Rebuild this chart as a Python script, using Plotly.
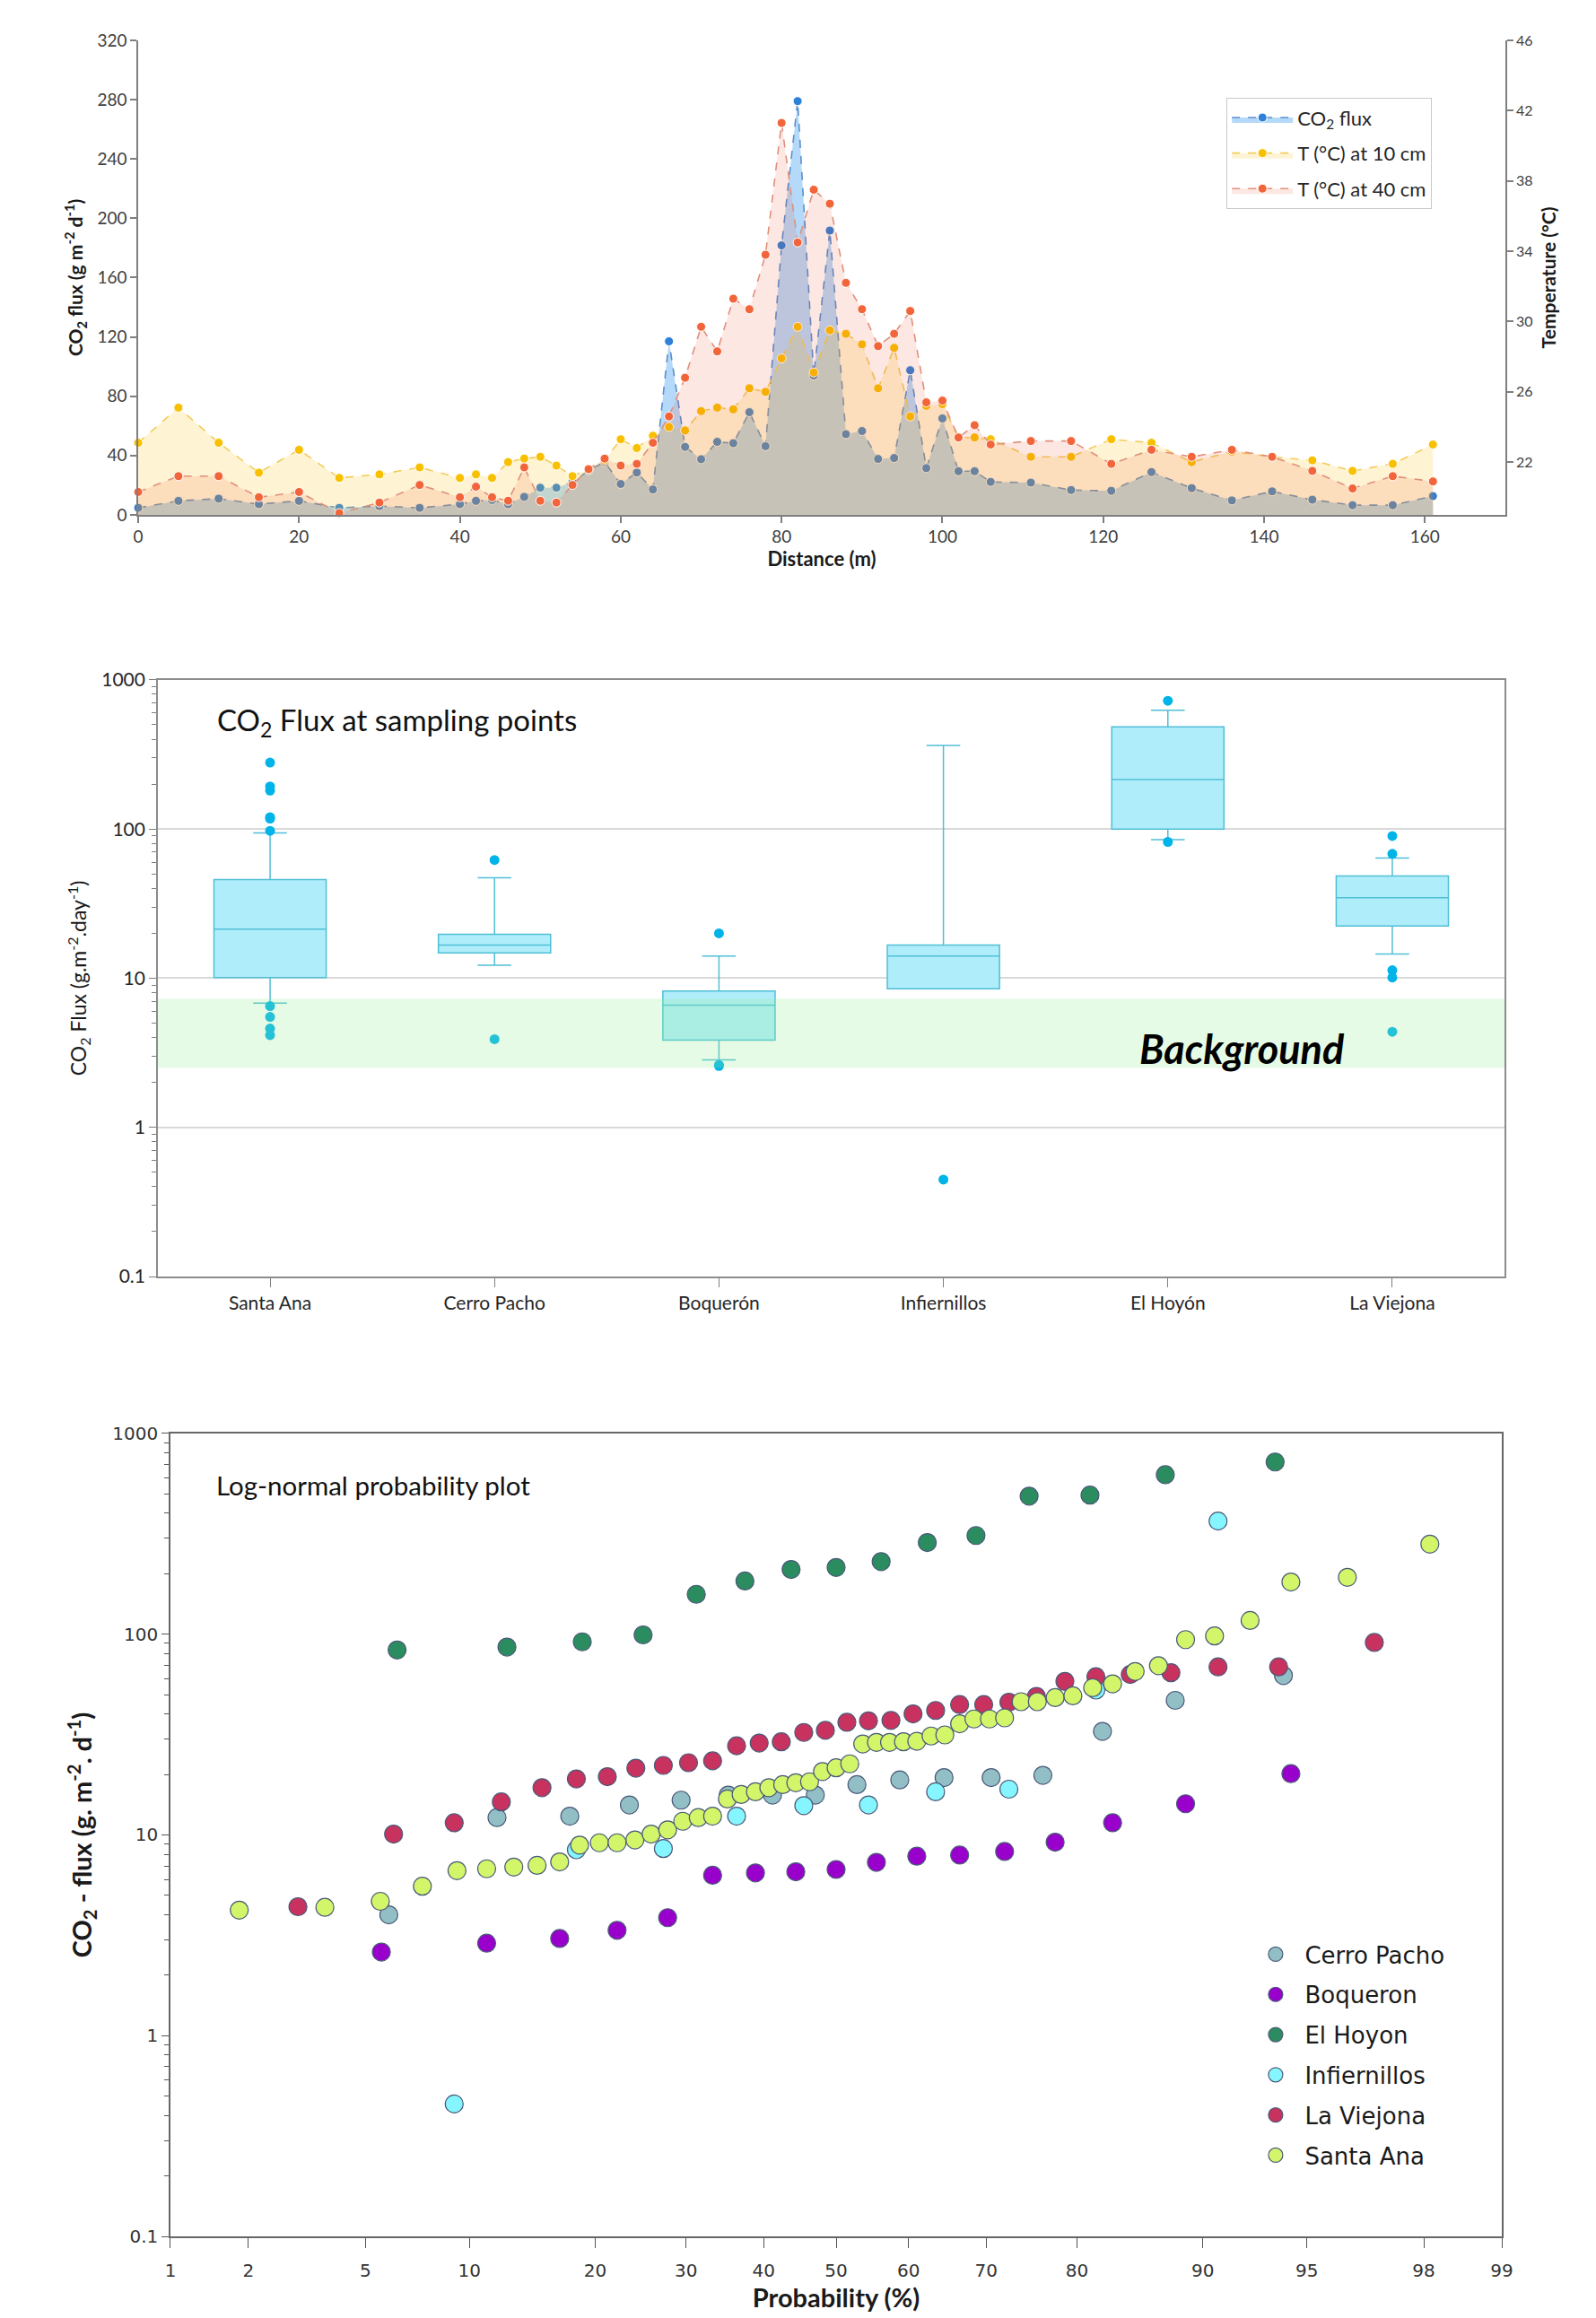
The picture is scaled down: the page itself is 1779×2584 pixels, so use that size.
import plotly.graph_objects as go
from statistics import NormalDist

# ---------------- Panel 1 : CO2 flux and soil temperature profile ----------------
distance_m = [0, 5, 10, 15, 20, 25, 30, 35, 40,
              42, 44, 46, 48, 50, 52, 54, 56, 58, 60, 62, 64, 66, 68, 70, 72, 74, 76, 78,
              80, 82, 84, 86, 88, 90, 92, 94, 96, 98, 100, 102, 104, 106,
              111, 116, 121, 126, 131, 136, 141, 146, 151, 156, 161]
co2_flux = [4.7, 9.4, 10.9, 7.2, 9.4, 4.7, 5.9, 4.7, 7.2,
            9.4, 10, 7.2, 12.1, 18.3, 18.3, 22, 30, 35.6, 20.8, 28.5, 17.1, 117, 45.8, 37.5, 49.2, 48.3, 69.2, 46.3,
            181.7, 279, 94, 191.7, 54.4, 56.5, 37.7, 38.3, 97.5, 31.5, 65, 29.4, 29.4, 22.2,
            21.7, 16.7, 16.2, 28.8, 18, 9.7, 15.8, 10.2, 6.5, 6.5, 12.6]
temp_10cm = [23.1, 25.1, 23.1, 21.4, 22.7, 21.1, 21.3, 21.7, 21.1,
             21.3, 21.1, 22.0, 22.2, 22.3, 21.8, 21.2, 21.6, 22.1, 23.3, 22.8, 23.5, 24.0, 23.8, 24.9, 25.1, 25.0, 26.2, 26.0,
             27.9, 29.7, 27.1, 29.5, 29.3, 28.7, 26.2, 28.5, 24.6, 25.2, 25.3, 23.4, 23.4, 23.3,
             22.3, 22.3, 23.3, 23.1, 22.0, 22.6, 22.3, 22.1, 21.5, 21.9, 23.0]
temp_40cm = [20.3, 21.2, 21.2, 20.0, 20.3, 19.1, 19.7, 20.7, 20.0,
             20.6, 20.0, 19.8, 21.7, 19.8, 19.7, 20.7, 21.6, 22.2, 21.8, 21.9, 23.1, 24.6, 26.8, 29.7, 28.3, 31.3, 30.7, 33.8,
             41.3, 34.5, 37.5, 36.7, 32.2, 30.7, 28.6, 29.3, 30.6, 25.4, 25.5, 23.4, 24.1, 23.0,
             23.2, 23.2, 21.9, 22.7, 22.3, 22.7, 22.3, 21.5, 20.5, 21.2, 20.9]
dist_ticks = [0, 20, 40, 60, 80, 100, 120, 140, 160]
flux_ticks = [0, 40, 80, 120, 160, 200, 240, 280, 320]
temp_ticks = [22, 26, 30, 34, 38, 42, 46]

# ---------------- Panel 2 : box plots ----------------
sites_box = ["Santa Ana", "Cerro Pacho", "Boquerón", "Infiernillos", "El Hoyón", "La Viejona"]
box_q1 = [10.1, 14.8, 3.85, 8.5, 100, 22.4]
box_median = [21.3, 16.7, 6.6, 14.1, 215, 34.6]
box_q3 = [45.9, 19.7, 8.2, 16.7, 484, 48.4]
box_lower = [6.8, 12.2, 2.83, 8.5, 85, 14.5]
box_upper = [94.2, 47.1, 14.1, 363, 625, 63.8]
outliers = [
    [279, 193, 181, 120, 117.5, 97.3, 6.5, 5.5, 4.6, 4.15],
    [62, 3.9],
    [20, 2.62, 2.58],
    [0.447],
    [724, 82],
    [89.8, 68.2, 11.3, 10.1, 4.37],
]
background_low = 2.5
background_high = 7.3
log_ticks = [0.1, 1, 10, 100, 1000]
log_ticktext = ["0.1", "1", "10", "100", "1000"]

# ---------------- Panel 3 : log-normal probability plot ----------------
prob_ticks = [1, 2, 5, 10, 20, 30, 40, 50, 60, 70, 80, 90, 95, 98, 99]
cp_prob = [5.9, 11.8, 17.6, 23.5, 29.4, 35.3, 41.2, 47.1, 52.9, 58.8, 64.7, 70.6, 76.5, 82.4, 88.2, 94.1]
cp_flux = [4.0, 12.2, 12.4, 14.1, 14.9, 15.8, 15.8, 15.8, 17.8, 18.8, 19.3, 19.3, 19.8, 32.8, 46.8, 62.2]
bq_prob = [5.6, 11.1, 16.7, 22.2, 27.8, 33.3, 38.9, 44.4, 50.0, 55.6, 61.1, 66.7, 72.2, 77.8, 83.3, 88.9, 94.4]
bq_flux = [2.61, 2.89, 3.05, 3.35, 3.87, 6.3, 6.47, 6.55, 6.73, 7.3, 7.84, 7.94, 8.27, 9.2, 11.5, 14.3, 20.2]
eh_prob = [6.25, 12.5, 18.75, 25, 31.25, 37.5, 43.75, 50, 56.25, 62.5, 68.75, 75, 81.25, 87.5, 93.75]
eh_flux = [83.4, 86.3, 91.6, 99.2, 158, 184, 210, 215, 230, 286, 310, 487, 493, 623, 721]
inf_prob = [9.1, 18.2, 27.3, 36.4, 45.5, 54.5, 63.6, 72.7, 81.8, 90.9]
inf_flux = [0.457, 8.44, 8.55, 12.4, 14.0, 14.1, 16.4, 16.9, 52.7, 366]
lv_prob = [3.0, 6.1, 9.1, 12.1, 15.2, 18.2, 21.2, 24.2, 27.3, 30.3, 33.3, 36.4, 39.4, 42.4, 45.5, 48.5,
           51.5, 54.5, 57.6, 60.6, 63.6, 66.7, 69.7, 72.7, 75.8, 78.8, 81.8, 84.8, 87.9, 90.9, 93.9, 97.0]
lv_flux = [4.39, 10.1, 11.5, 14.6, 17.2, 19.0, 19.5, 21.5, 22.2, 22.9, 23.4, 27.8, 28.7, 29.1, 32.4, 33.2,
           36.4, 37.0, 37.2, 40.1, 41.7, 44.6, 44.6, 45.8, 49.0, 58.2, 61.4, 63.0, 64.3, 68.7, 68.7, 91.0]
sa_prob = [1.85, 3.70, 5.56, 7.41, 9.26, 11.1, 13.0, 14.8, 16.7, 18.5, 20.4, 22.2, 24.1, 25.9, 27.8, 29.6,
           31.5, 33.3, 35.2, 37.0, 38.9, 40.7, 42.6, 44.4, 46.3, 48.1, 50.0, 51.9, 53.7, 55.6, 57.4, 59.3,
           61.1, 63.0, 64.8, 66.7, 68.5, 70.4, 72.2, 74.1, 75.9, 77.8, 79.6, 81.5, 83.3, 85.2, 87.0, 88.9,
           90.7, 92.6, 94.4, 96.3, 98.1]
sa_flux = [4.22, 4.36, 4.67, 5.55, 6.64, 6.78, 6.92, 7.05, 7.34, 8.9, 9.14, 9.14, 9.44, 10.1, 10.6, 11.7,
           12.2, 12.4, 15.1, 15.9, 16.4, 17.2, 17.8, 18.2, 18.4, 20.7, 21.6, 22.6, 28.4, 28.9, 28.9, 29.1,
           29.3, 31.1, 31.5, 35.8, 37.8, 37.8, 38.3, 46.1, 46.1, 48.3, 49.3, 54.1, 56.6, 65.2, 69.7, 94,
           98, 117, 182, 192, 281]
prob_series = [
    ("Cerro Pacho", cp_prob, cp_flux, "#92bfc6"),
    ("Boqueron", bq_prob, bq_flux, "#9900cc"),
    ("El Hoyon", eh_prob, eh_flux, "#2b8c5f"),
    ("Infiernillos", inf_prob, inf_flux, "#85f5ff"),
    ("La Viejona", lv_prob, lv_flux, "#c8325f"),
    ("Santa Ana", sa_prob, sa_flux, "#d2f56a"),
]

ND = NormalDist()


def probit(p):
    return ND.inv_cdf(p / 100.0)


FONT = "Lato, 'Open Sans', sans-serif"
VFONT = "'DejaVu Sans', Verdana, sans-serif"
AX = "#7f7f7f"
TXT = "#404040"
TITLE = "#1a1a1a"

fig = go.Figure()

# ---- panel 1 traces ----
fig.add_trace(go.Scatter(
    x=distance_m, y=co2_flux, xaxis="x", yaxis="y", name="CO<sub>2</sub> flux",
    mode="lines+markers", fill="tozeroy", fillcolor="rgba(90,170,240,0.45)",
    line=dict(color="#5b8fd0", width=1.6, dash="dash"),
    marker=dict(size=10, color="#2f80d8", line=dict(color="white", width=1)),
    cliponaxis=False, legend="legend", legendgroup="a"))
fig.add_trace(go.Scatter(
    x=distance_m, y=temp_10cm, xaxis="x", yaxis="y2", name="T (°C) at 10 cm",
    mode="lines+markers", fill="tozeroy", fillcolor="rgba(250,200,40,0.2)",
    line=dict(color="#f2cc5a", width=1.6, dash="dash"),
    marker=dict(size=10, color="#f8c000", line=dict(color="white", width=1)),
    cliponaxis=False, legend="legend", legendgroup="b"))
fig.add_trace(go.Scatter(
    x=distance_m, y=temp_40cm, xaxis="x", yaxis="y2", name="T (°C) at 40 cm",
    mode="lines+markers", fill="tozeroy", fillcolor="rgba(240,60,20,0.12)",
    line=dict(color="#e0907c", width=1.6, dash="dash"),
    marker=dict(size=10, color="#f2653a", line=dict(color="white", width=1)),
    cliponaxis=False, legend="legend", legendgroup="c"))

# ---- panel 2 traces ----
box_pos = list(range(len(sites_box)))
fig.add_trace(go.Box(
    x=box_pos, q1=box_q1, median=box_median, q3=box_q3,
    lowerfence=box_lower, upperfence=box_upper, width=0.5, whiskerwidth=0.3,
    fillcolor="#b0edfb", line=dict(color="#50bfd6", width=1.5),
    boxpoints=False, showlegend=False, xaxis="x2", yaxis="y3"))
out_x, out_y = [], []
for i, vals in enumerate(outliers):
    out_x += [box_pos[i]] * len(vals)
    out_y += vals
fig.add_trace(go.Scatter(
    x=out_x, y=out_y, mode="markers", xaxis="x2", yaxis="y3", showlegend=False,
    marker=dict(size=11, color="#00b4e8"), cliponaxis=False))
x2_range = [-0.5, len(sites_box) - 0.5]
fig.add_trace(go.Scatter(
    x=[x2_range[0], x2_range[1], x2_range[1], x2_range[0], x2_range[0]],
    y=[background_low, background_low, background_high, background_high, background_low],
    mode="lines", fill="toself", fillcolor="rgba(150,240,150,0.24)",
    line=dict(width=0), xaxis="x2", yaxis="y3", showlegend=False, hoverinfo="skip"))

# ---- panel 3 traces ----
for k, (name, prob, flux, col) in enumerate(prob_series):
    fig.add_trace(go.Scatter(
        x=[probit(p) for p in prob], y=flux, mode="markers", name=name,
        xaxis="x3", yaxis="y4", legend="legend2", legendgroup="g%d" % k,
        marker=dict(size=20, color=col, line=dict(color="#4a5a78", width=1.2)),
        cliponaxis=False))

fig.update_layout(
    width=1779, height=2584, margin=dict(l=0, r=0, t=0, b=0, autoexpand=False),
    paper_bgcolor="white", plot_bgcolor="white",
    font=dict(family=FONT, size=18, color=TXT),
    # panel 1
    xaxis=dict(domain=[0.0866, 0.9432], anchor="y", range=[0, 170], tickmode="array", automargin=False,
               tickvals=dist_ticks, ticks="outside", ticklen=7, tickcolor=AX, tickwidth=1.5,
               showline=True, linecolor=AX, linewidth=1.5, showgrid=False, zeroline=False,
               tickfont=dict(size=19, color=TXT),
               title=dict(text="<b>Distance (m)</b>", font=dict(size=22, color=TITLE), standoff=4)),
    yaxis=dict(domain=[0.7779, 0.9826], anchor="x", range=[0, 320], tickmode="array", automargin=False,
               tickvals=flux_ticks, ticks="outside", ticklen=7, tickcolor=AX, tickwidth=1.5,
               showline=True, linecolor=AX, linewidth=1.5, showgrid=False, zeroline=False,
               tickfont=dict(size=19, color=TXT),
               title=dict(text="<b>CO<sub>2</sub> flux (g m<sup>-2</sup> d<sup>-1</sup>)</b>",
                          font=dict(size=21, color=TITLE), standoff=10)),
    yaxis2=dict(overlaying="y", anchor="x", side="right", range=[19, 46], tickmode="array", automargin=False,
                tickvals=temp_ticks, ticks="outside", ticklen=7, tickcolor=AX, tickwidth=1.5,
                showline=True, linecolor=AX, linewidth=1.5, showgrid=False, zeroline=False,
                tickfont=dict(size=16, color=TXT),
                title=dict(text="<b>Temperature (°C)</b>", font=dict(size=21, color=TITLE), standoff=12)),
    # panel 2
    xaxis2=dict(domain=[0.0989, 0.9427], anchor="y3", range=x2_range, tickmode="array", automargin=False,
                tickvals=box_pos, ticktext=sites_box, ticks="outside", ticklen=10, tickcolor=AX,
                showline=True, mirror=True, linecolor="#8c8c8c", linewidth=1.5,
                showgrid=False, zeroline=False, tickfont=dict(size=21, color="#262626")),
    yaxis3=dict(domain=[0.4493, 0.7067], anchor="x2", type="log", range=[-1, 3], tickmode="array",
                automargin=False,
                tickvals=log_ticks, ticktext=log_ticktext, ticks="outside", ticklen=8, tickcolor=AX,
                minor=dict(ticks="outside", ticklen=5, tickcolor=AX, dtick="D1", showgrid=False),
                showline=True, mirror=True, linecolor="#8c8c8c", linewidth=1.5,
                showgrid=True, gridcolor="#d9d9d9", gridwidth=1.5, zeroline=False,
                tickfont=dict(size=21, color="#262626"),
                title=dict(text="CO<sub>2</sub> Flux (g.m<sup>-2</sup>.day<sup>-1</sup>)",
                           font=dict(size=23, color=TITLE), standoff=10)),
    # panel 3
    xaxis3=dict(domain=[0.1068, 0.9410], anchor="y4", range=[probit(1), probit(99)], tickmode="array",
                automargin=False,
                tickvals=[probit(p) for p in prob_ticks], ticktext=[str(p) for p in prob_ticks],
                ticks="outside", ticklen=11, tickcolor="#555", ticklabelstandoff=8,
                showline=True, mirror=True, linecolor="#666", linewidth=1.5,
                showgrid=False, zeroline=False, tickfont=dict(family=VFONT, size=20, color="#333"),
                title=dict(text="<b>Probability (%)</b>", font=dict(size=29, color=TITLE), standoff=2)),
    yaxis4=dict(domain=[0.0352, 0.3816], anchor="x3", type="log", range=[-1, 3], tickmode="array",
                automargin=False,
                tickvals=log_ticks, ticktext=log_ticktext, ticks="outside", ticklen=8, tickcolor="#555",
                minor=dict(ticks="outside", ticklen=5, tickcolor="#555", dtick="D1", showgrid=False),
                showline=True, mirror=True, linecolor="#666", linewidth=1.5,
                showgrid=False, zeroline=False, tickfont=dict(family=VFONT, size=20, color="#333"),
                title=dict(text="<b>CO<sub>2</sub> - flux (g. m<sup>-2</sup>. d<sup>-1</sup>)</b>",
                           font=dict(size=29, color=TITLE), standoff=14)),
    legend=dict(x=0.7684, y=0.9578, xanchor="left", yanchor="top", bgcolor="white",
                bordercolor="#c8c8c8", borderwidth=1.2, font=dict(size=22, color="#262626"),
                traceorder="grouped", tracegroupgap=8, itemsizing="trace", itemwidth=68),
    legend2=dict(x=0.781, y=0.166, xanchor="left", yanchor="top", bgcolor="rgba(0,0,0,0)",
                 borderwidth=0, font=dict(family=VFONT, size=26, color="#1a1a1a"),
                 traceorder="grouped", tracegroupgap=8, itemsizing="trace", itemwidth=55),
    annotations=[
        dict(text="CO<sub>2</sub> Flux at sampling points", xref="paper", yref="paper",
             x=0.1349, y=0.6885, xanchor="left", yanchor="middle", showarrow=False,
             font=dict(size=33, color="#111")),
        dict(text="<b><i>Background</i></b>", xref="paper", yref="paper",
             x=0.7785, y=0.5476, xanchor="center", yanchor="middle", showarrow=False,
             font=dict(size=45, color="#000")),
        dict(text="Log-normal probability plot", xref="paper", yref="paper",
             x=0.1343, y=0.3595, xanchor="left", yanchor="middle", showarrow=False,
             font=dict(size=29.5, color="#111")),
    ],
)

fig.write_html("out.html", config={"displayModeBar": False},
               post_script="document.body.style.margin='0';document.body.style.overflow='hidden';")
